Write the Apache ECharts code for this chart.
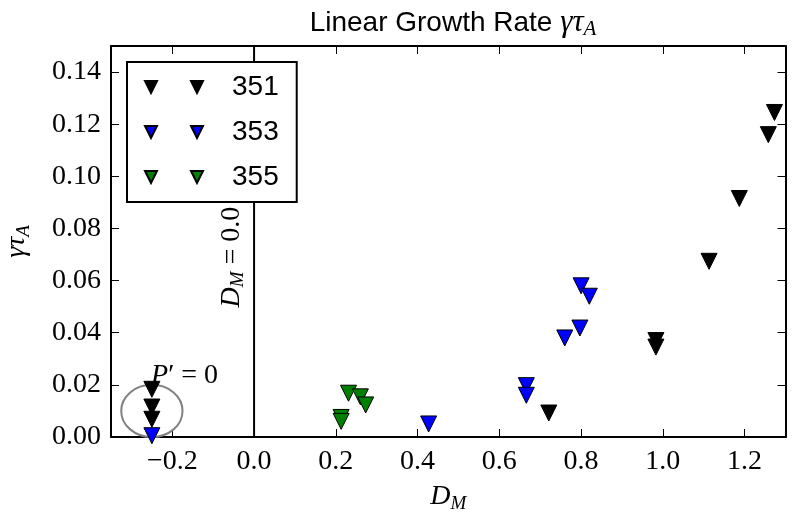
<!DOCTYPE html>
<html>
<head>
<meta charset="utf-8">
<title>Linear Growth Rate</title>
<script src="https://cdn.jsdelivr.net/npm/echarts@6.0.0/dist/echarts.min.js"></script>
<style>
  html, body { margin: 0; padding: 0; background: #fff; }
  #growth-rate-chart { width: 803px; height: 519px; }
</style>
</head>
<body>
<div id="growth-rate-chart"></div>
<script>
/* data */
// run 351 (black)
const run351X = [-0.25, -0.25, -0.25, 0.721, 0.983, 0.983, 1.113, 1.187, 1.258, 1.273]
const run351Y = [0.0183, 0.0115, 0.0068, 0.0092, 0.0370, 0.0345, 0.0674, 0.0915, 0.1160, 0.1245]
// run 353 (blue)
const run353X = [-0.25, 0.427, 0.666, 0.666, 0.760, 0.797, 0.800, 0.820]
const run353Y = [0.0005, 0.0050, 0.0197, 0.0160, 0.0380, 0.0418, 0.0580, 0.0540]
// run 355 (green)
const run355X = [0.213, 0.213, 0.231, 0.260, 0.273]
const run355Y = [0.0075, 0.0060, 0.0168, 0.0154, 0.0123]

const legendNames = ['351', '353', '355']
const xTicks = [-0.2, 0.0, 0.2, 0.4, 0.6, 0.8, 1.0, 1.2]
const yTicks = [0.00, 0.02, 0.04, 0.06, 0.08, 0.10, 0.12, 0.14]
const xRange = [-0.35, 1.3]
const yRange = [0, 0.15]

// annotations, in data coords
const vlineX = 0
const ellipseAt = [-0.25, 0.01]
const ellipseSize = [0.15, 0.02]
const pLabelAt = [-0.17, 0.0235]
const dmLabelAt = [-0.055, 0.069]

/* styles */
const serif = "'Liberation Serif', 'DejaVu Serif', serif"
const sans = "'Liberation Sans', Arial, sans-serif"
const triPath = 'path://M0,0L2,0L1,2Z'
const legendIcon = 'path://M0,0L12,0L6,12ZM46,0L58,0L52,12Z'

// math-ish rich text: i italic, r roman, s subscript
const mathRich = {
  i: { fontFamily: serif, fontStyle: 'italic', fontSize: 28, lineHeight: 32, color: '#000' },
  r: { fontFamily: serif, fontSize: 28, lineHeight: 32, color: '#000' },
  s: { fontFamily: serif, fontStyle: 'italic', fontSize: 19, lineHeight: 14, verticalAlign: 'bottom', color: '#000' }
}

let myChart = echarts.init(document.getElementById('growth-rate-chart'), null, { renderer: 'canvas' })

// axis builder (frame + inward ticks)
function makeAxis(position, range, ticks, extra) {
  return Object.assign({
    type: 'value',
    position,
    min: range[0],
    max: range[1],
    axisLine: { show: true, onZero: false, lineStyle: { color: '#000', width: 2 } },
    axisTick: { show: true, inside: true, length: 8, lineStyle: { color: '#000', width: 1 }, customValues: ticks },
    axisLabel: { show: false },
    splitLine: { show: false }
  }, extra)
}

function scatterSeries(name, xs, ys, color) {
  return {
    name,
    type: 'scatter',
    data: xs.map((x, i) => [x, ys[i]]),
    symbol: triPath,
    symbolSize: 16,
    itemStyle: { color, borderColor: '#000', borderWidth: 1, opacity: 1 },
    emphasis: { disabled: true },
    z: 3
  }
}

const option = {
  animation: false,
  backgroundColor: '#fff',

  title: {
    text: 'Linear Growth Rate {m|γτ}{s|A}',
    left: 448,
    top: 1,
    textAlign: 'center',
    textStyle: {
      fontFamily: sans,
      fontSize: 28,
      fontWeight: 'normal',
      color: '#000',
      lineHeight: 34,
      rich: {
        m: { fontFamily: serif, fontStyle: 'italic', fontSize: 31, lineHeight: 34, color: '#000' },
        s: { fontFamily: serif, fontStyle: 'italic', fontSize: 21, lineHeight: 16, verticalAlign: 'bottom', color: '#000' }
      }
    }
  },

  legend: {
    data: legendNames,
    orient: 'vertical',
    left: 127,
    top: 62,
    padding: [11, 18, 11, 17],
    itemGap: 17,
    itemWidth: 58,
    itemHeight: 12,
    icon: legendIcon,
    symbolRotate: 0,
    borderColor: '#000',
    borderWidth: 2,
    borderRadius: 0,
    backgroundColor: '#fff',
    selectedMode: false,
    textStyle: { fontFamily: sans, fontSize: 28, lineHeight: 28, color: '#000', padding: [0, 0, 0, 24] }
  },

  grid: {
    left: 111,
    right: 17.5,
    top: 46,
    bottom: 82,
    containLabel: false,
    outerBoundsMode: 'none'
  },

  xAxis: [
    makeAxis('bottom', xRange, xTicks, {
      name: '{i|D}{s|M}',
      nameLocation: 'middle',
      nameGap: 44,
      nameTextStyle: { rich: mathRich },
      axisLabel: {
        show: true,
        customValues: xTicks,
        margin: 11,
        color: '#000',
        fontFamily: serif,
        fontSize: 28,
        formatter: v => (v < 0 ? '\u2212' : '') + Math.abs(v).toFixed(1)
      }
    }),
    makeAxis('top', xRange, xTicks)
  ],

  yAxis: [
    makeAxis('left', yRange, yTicks, {
      name: '{i|γτ}{s|A}',
      nameLocation: 'middle',
      nameGap: 78,
      nameTextStyle: { rich: mathRich },
      axisLabel: {
        show: true,
        customValues: yTicks,
        margin: 10,
        color: '#000',
        fontFamily: serif,
        fontSize: 28,
        formatter: v => v.toFixed(2)
      }
    }),
    makeAxis('right', yRange, yTicks)
  ],

  series: [
    scatterSeries(legendNames[0], run351X, run351Y, '#000000'),
    scatterSeries(legendNames[1], run353X, run353Y, '#0000ff'),
    scatterSeries(legendNames[2], run355X, run355Y, '#008000'),
    // annotations: D_M = 0 line, ellipse, texts
    {
      name: 'annotations',
      type: 'custom',
      silent: true,
      clip: false,
      z: 1,
      data: [[0, 0]],
      renderItem: (params, api) => {
        const c = api.coord(ellipseAt)
        const s = api.size(ellipseSize)
        const l0 = api.coord([vlineX, yRange[0]])
        const l1 = api.coord([vlineX, yRange[1]])
        const p = api.coord(pLabelAt)
        const d = api.coord(dmLabelAt)
        return {
          type: 'group',
          children: [
            {
              type: 'ellipse',
              shape: { cx: c[0], cy: c[1], rx: s[0] / 2, ry: s[1] / 2 },
              style: { fill: 'none', stroke: '#808080', lineWidth: 2 }
            },
            {
              type: 'line',
              shape: { x1: l0[0], y1: l0[1], x2: l1[0], y2: l1[1] },
              style: { stroke: '#000', lineWidth: 2 }
            },
            {
              type: 'text',
              x: p[0],
              y: p[1],
              style: { text: '{i|P}{r|′ = 0}', rich: mathRich, align: 'center', verticalAlign: 'middle' }
            },
            {
              type: 'text',
              x: d[0],
              y: d[1],
              rotation: Math.PI / 2,
              style: { text: '{i|D}{s|M}{r| = 0.0}', rich: mathRich, align: 'center', verticalAlign: 'middle' }
            }
          ]
        }
      }
    }
  ]
}

myChart.setOption(option)
</script>
</body>
</html>
